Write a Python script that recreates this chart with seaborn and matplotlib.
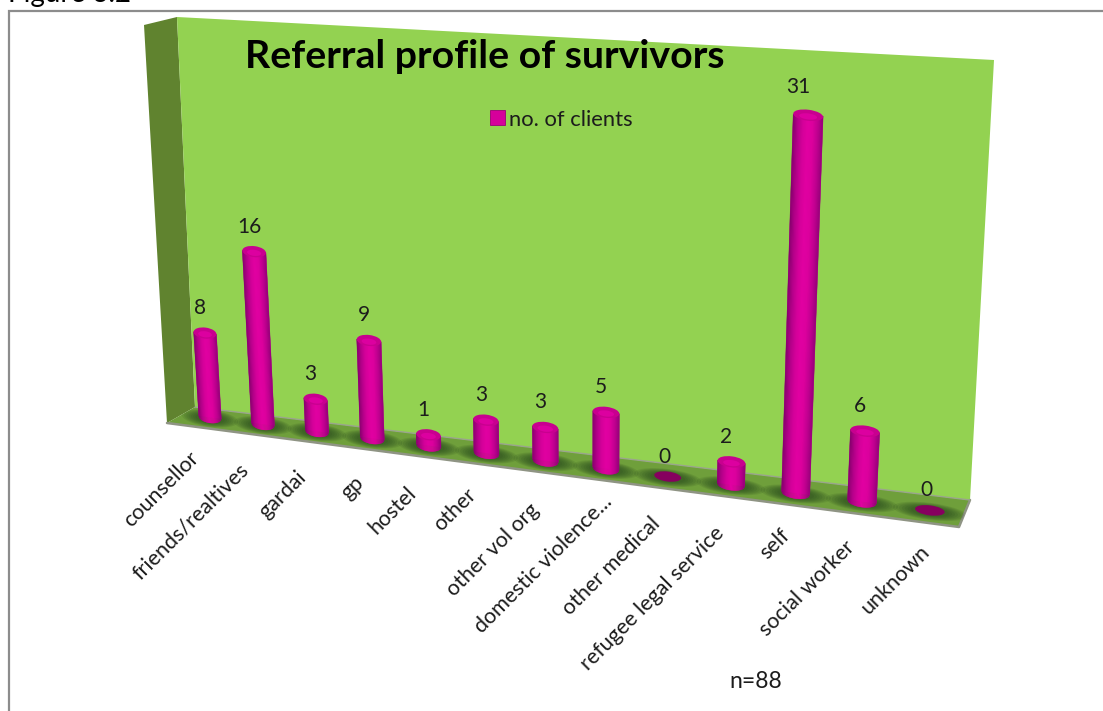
import numpy as np
import pandas as pd
import matplotlib
matplotlib.use("Agg")
import matplotlib.pyplot as plt
import seaborn as sns
from matplotlib.transforms import Transform
from matplotlib.patches import Polygon, Ellipse, Patch
from matplotlib.colors import LinearSegmentedColormap

categories = ["counsellor", "friends/realtives", "gardai", "gp", "hostel", "other",
              "other vol org", "domestic violence...", "other medical",
              "refugee legal service", "self", "social worker", "unknown"]
clients = [8, 16, 3, 9, 1, 3, 3, 5, 0, 2, 31, 6, 0]

# Calibration of the 3D view: (category index, value) -> image pixel
CAL_IN = np.array([[0,0],[1,0],[2,0],[3,0],[4,0],[5,0],[6,0],[7,0],[8,0],[9,0],[10,0],[11,0],[12,0],
                   [0,8],[1,16],[2,3],[3,9],[4,1],[5,3],[6,3],[7,5],[9,2],[10,31],[11,6]], float)
CAL_OUT = np.array([[209,416],[262,422],[316.5,429],[372,437],[429,444],[486,453],[545,461],[606,468],
                    [668,476],[732,485],[796,491],[862,499],[929.5,509],
                    [205,333],[256,252],[316,401],[369,341],[429,436],[486,424],[545,431],[606,415],
                    [732,465],[807,113],[864.5,432]], float)

# Offsets of the rotated tick labels from each bar's base, in pixels
LABEL_DX = [-14, -17, -14, -12, -16, -13, -10, 3, -11, -10, -9, -10, -3]
LABEL_DY = [38, 42, 43, 41, 44, 38, 46, 30, 44, 45, 39, 42, 38]

A, B = [], []
for (i, v), (X, Y) in zip(CAL_IN, CAL_OUT):
    A.append([i, v, 1, 0, 0, 0, -i*X, -v*X]); B.append(X)
    A.append([0, 0, 0, i, v, 1, -i*Y, -v*Y]); B.append(Y)
H = np.append(np.linalg.lstsq(np.array(A), np.array(B), rcond=None)[0], 1).reshape(3, 3)


class Perspective(Transform):
    input_dims = output_dims = 2
    is_separable = False

    def transform_non_affine(self, values):
        v = np.asarray(values, float)
        p = np.column_stack([v, np.ones(len(v))]) @ H.T
        return p[:, :2] / p[:, 2:]


persp = Perspective()
project = lambda i, v: persp.transform_non_affine([[i, v]])[0]

sns.set_theme(style="white")
plt.rcParams["font.family"] = ["Lato", "DejaVu Sans"]

fig = plt.figure(figsize=(11.03, 7.11), dpi=100)
ax = fig.add_axes([0, 0, 1, 1])

df = pd.DataFrame({"category": categories, "clients": clients})
sns.barplot(data=df, x="category", y="clients", width=0.43, color="#d6009b",
            saturation=1, ax=ax, zorder=5)
bars = list(ax.patches)
ax.set_xlim(0, 1103)
ax.set_ylim(711, 0)
ax.set_axis_off()
ax.patch.set_visible(False)
for b in bars:
    b.set_transform(persp + ax.transData)
    b.set_clip_on(False)
    b.set_linewidth(0)

# frame
ax.plot([8.5, 8.5, 1103], [711, 10.5, 10.5], color="#8c8c8c", lw=1.6, zorder=1, solid_joinstyle="miter")

# walls and floor
side = Polygon([(144, 25), (177, 17), (195, 407), (167, 423)], fc="#60832f", ec="none", zorder=2)
back = Polygon([(177, 17), (994, 60), (970, 500), (195, 407)], fc="#93d251", ec="none", zorder=2)
floor = Polygon([(195, 407), (970, 500), (959, 527), (167, 423)], fc="#6f9f3b", ec="none", zorder=2)
for p in (side, back, floor):
    ax.add_patch(p)
ax.plot([167, 959, 970], [423, 527, 500], color="#8f9484", lw=1.8, zorder=3)
ax.plot([195, 970], [407, 500], color="#9aa58c", lw=1, zorder=3)

cmap = LinearSegmentedColormap.from_list(
    "cyl", ["#84006c", "#b20088", "#d4009a", "#e200a2", "#dd009e", "#c00090", "#96007a"])
cap_b = 5.5
N = 26

for n, (b, val, name) in enumerate(zip(bars, clients, categories)):
    x0, w = b.get_x(), b.get_width()
    bl, br = project(x0, 0), project(x0 + w, 0)
    tl, tr = project(x0, val), project(x0 + w, val)
    base, top = (bl + br) / 2, (tl + tr) / 2
    bw, tw = np.hypot(*(br - bl)), np.hypot(*(tr - tl))
    ang = np.degrees(np.arctan2(*(br - bl)[::-1]))

    # floor shadow
    for k in range(7):
        s = Ellipse(base + (0, 1), bw * (2.5 - 0.2 * k), 17 - 1.3 * k, angle=ang,
                    fc="#22401a", ec="none", alpha=0.12, zorder=3.5)
        ax.add_patch(s)
        s.set_clip_path(floor)

    if val == 0:
        ax.add_patch(Ellipse(base, bw, 10, angle=ang, fc="#86005f", ec="none", zorder=6))
    else:
        for j in range(N):
            t0, t1 = j / N, (j + 1) / N
            u0, u1 = 2 * t0 - 1, 2 * t1 - 1
            b0 = bl + (br - bl) * t0 + (0, cap_b * np.sqrt(1 - u0 ** 2))
            b1 = bl + (br - bl) * t1 + (0, cap_b * np.sqrt(1 - u1 ** 2))
            t_0 = tl + (tr - tl) * t0
            t_1 = tl + (tr - tl) * t1
            c = cmap((t0 + t1) / 2)
            ax.add_patch(Polygon([t_0, t_1, b1, b0], fc=c, ec=c, lw=0.3, zorder=6))
        ax.add_patch(Ellipse(top, tw, 2 * cap_b, angle=ang, fc="#c8008f", ec="none", zorder=7))
        ax.add_patch(Ellipse(top + (0, 1.2), tw * 0.6, 1.1 * cap_b, angle=ang, fc="#dc00a0", ec="none", zorder=7))

    off = (-10, -28) if val > 20 else (-5, -25) if val > 0 else (-3.5, -20)
    ax.text(*(top + off), str(val), ha="center", va="center", fontsize=15, color="#1c1c1c", zorder=8)
    ax.text(*(base + (LABEL_DX[n], LABEL_DY[n])), name, rotation=45, ha="right", va="center",
            rotation_mode="anchor", fontsize=15.5, color="#1c1c1c", zorder=8)

ax.text(245, 57, "Referral profile of survivors", ha="left", va="center",
        fontsize=28.3, fontweight="bold", color="black", zorder=8)
ax.text(729, 681, "n=88", ha="left", va="center", fontsize=16.5, color="#1c1c1c", zorder=8)
ax.text(8, 2, "Figure 3.2", ha="left", va="baseline", fontsize=20, color="black", zorder=8)

handle = Patch(fc="#d6009b", ec="#9a0078", lw=0.6, label="no. of clients")
ax.legend(handles=[handle], loc="center left", bbox_to_anchor=(490, 119.5), bbox_transform=ax.transData,
          frameon=False, fontsize=15.8, handlelength=0.68, handleheight=0.68, handletextpad=0.2,
          labelcolor="#1c1c1c", borderpad=0, borderaxespad=0)

fig.savefig("out.png", dpi=100, facecolor="white")
